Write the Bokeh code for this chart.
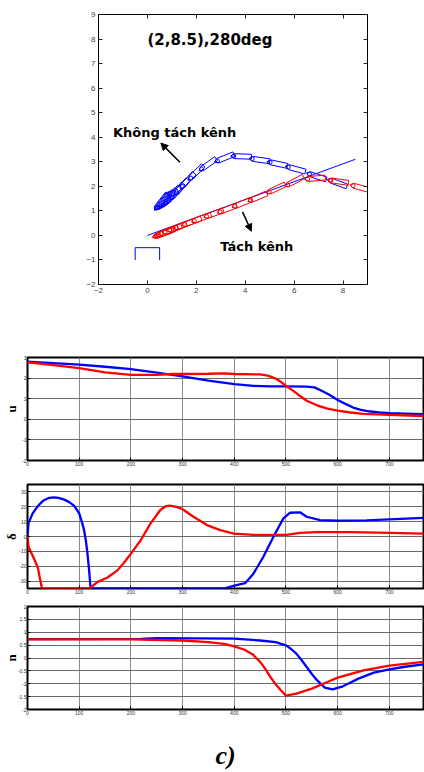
import numpy as np
from bokeh.plotting import figure
from bokeh.layouts import column, row
from bokeh.models import Range1d, LinearAxis, FixedTicker, Arrow, NormalHead, CustomJSTickFormatter
from bokeh.core.properties import value
from bokeh.embed import file_html
from bokeh.resources import INLINE

# ---------------- trajectory plot data ----------------
ref_x = [0.0, 8.5]
ref_y = [0.0, 3.1]
dock_x = [-0.5, -0.5, 0.5, 0.5]
dock_y = [-1.0, -0.5, -0.5, -1.0]

blue_ship_x = [7.76, 6.91, 6.05, 5.31, 4.58, 3.83, 3.14, 2.46, 1.98, 1.63, 1.38, 1.2, 1.05, 0.93, 0.83, 0.74, 0.66, 0.6, 0.55]
blue_ship_y = [2.14, 2.41, 2.71, 2.92, 3.08, 3.22, 3.15, 2.88, 2.55, 2.22, 1.96, 1.78, 1.65, 1.55, 1.48, 1.43, 1.39, 1.37, 1.36]
blue_ship_psi = [160, 162, 165, 168, 172, 178, 202, 215, 225, 228, 230, 231, 232, 232, 232, 232, 232, 232, 232]

red_ship_x = [8.7, 7.8, 6.85, 6.0, 5.25, 4.5, 3.85, 3.25, 2.7, 2.2, 1.8, 1.45, 1.2, 1.0, 0.85, 0.74, 0.66, 0.6]
red_ship_y = [1.95, 2.2, 2.32, 2.2, 1.9, 1.55, 1.3, 1.07, 0.88, 0.7, 0.55, 0.42, 0.32, 0.24, 0.18, 0.13, 0.09, 0.06]
red_ship_psi = [165, 172, 185, 208, 205, 203, 202, 201, 200, 200, 200, 200, 200, 200, 200, 200, 200, 200]

title_text = "(2,8.5),280deg"
label_blue = "Không tách kênh"
label_red = "Tách kênh"
caption = "c)"

# ---------------- time series data ----------------
u_blue_t = [0, 50, 100, 150, 200, 250, 300, 350, 400, 437, 470, 500, 540, 555, 566, 583, 600, 615, 630, 645, 660, 680, 700, 730, 766]
u_blue = [2.8, 2.73, 2.65, 2.55, 2.44, 2.27, 2.08, 1.88, 1.71, 1.62, 1.6, 1.6, 1.59, 1.55, 1.42, 1.2, 0.94, 0.75, 0.57, 0.46, 0.39, 0.33, 0.3, 0.28, 0.25]
u_red_t = [0, 50, 100, 150, 200, 250, 280, 300, 350, 380, 400, 450, 465, 480, 490, 500, 510, 520, 530, 540, 560, 580, 600, 625, 650, 700, 766]
u_red = [2.77, 2.63, 2.48, 2.28, 2.16, 2.16, 2.2, 2.2, 2.21, 2.23, 2.2, 2.18, 2.12, 1.98, 1.82, 1.63, 1.45, 1.27, 1.08, 0.9, 0.68, 0.52, 0.42, 0.33, 0.26, 0.21, 0.16]

d_blue_t = [0, 2, 10, 20, 30, 40, 50, 60, 70, 80, 90, 100, 105, 109, 113, 116, 119, 122, 380, 400, 421, 437, 456, 476, 495, 508, 527, 540, 566, 600, 656, 700, 766]
d_blue = [0, 9, 15.6, 20.5, 24, 25.8, 26.4, 26, 25, 23.3, 20.8, 15.6, 10, 5, -3, -11.5, -22, -35, -35, -33, -31.4, -25, -13.8, 0, 12.2, 16, 16.3, 13.3, 11, 10.6, 10.8, 11.5, 12.6]
d_red_t = [0, 2, 8, 14, 20, 24, 28, 120, 135, 154, 174, 187, 200, 219, 238, 257, 268, 276, 290, 300, 321, 347, 373, 399, 437, 501, 527, 560, 624, 700, 766]
d_red = [0, -7, -11.5, -16, -21, -28, -35, -35, -30.7, -27.8, -22.8, -17.5, -11.5, -2.5, 8.8, 17.8, 20.5, 20.8, 19.8, 18.3, 13.3, 7.7, 4.3, 2, 1.1, 1.1, 2.5, 3, 3, 2.5, 2]

n_blue_t = [0, 220, 250, 400, 450, 480, 500, 510, 520, 530, 540, 550, 560, 575, 590, 610, 625, 640, 670, 700, 730, 766]
n_blue = [0.735, 0.74, 0.77, 0.75, 0.68, 0.62, 0.49, 0.35, 0.17, -0.08, -0.35, -0.62, -0.86, -1.15, -1.22, -1.1, -0.95, -0.8, -0.57, -0.44, -0.34, -0.25]
n_red_t = [0, 200, 300, 350, 380, 400, 420, 435, 450, 460, 470, 480, 490, 500, 520, 550, 580, 600, 650, 700, 766]
n_red = [0.72, 0.72, 0.68, 0.62, 0.55, 0.45, 0.32, 0.15, -0.15, -0.42, -0.74, -1.02, -1.25, -1.46, -1.38, -1.19, -0.93, -0.76, -0.48, -0.3, -0.15]

x_ticks = [0, 100, 200, 300, 400, 500, 600, 700]
u_ticks = [-2, -1, 0, 1, 2, 3]
d_ticks = [-30, -20, -10, 0, 10, 20, 30]
n_ticks = [-2, -1.5, -1, -0.5, 0, 0.5, 1, 1.5, 2]

BLUE = "#0000ff"
RED = "#ff0000"


def hulls(xc, yc, psi):
    L, B, t = 0.85, 0.2, 0.15
    hx = np.array([L / 2, L / 2 - t, -L / 2, -L / 2, L / 2 - t])
    hy = np.array([0, B / 2, B / 2, -B / 2, -B / 2])
    xs, ys, bx, by = [], [], [], []
    for x, y, a in zip(xc, yc, psi):
        r = np.deg2rad(a)
        xs.append(list(x + hx * np.cos(r) - hy * np.sin(r)))
        ys.append(list(y + hx * np.sin(r) + hy * np.cos(r)))
        bx.append(x + 0.3 * np.cos(r))
        by.append(y + 0.3 * np.sin(r))
    return xs, ys, bx, by


# ---------------- top figure ----------------
pA = figure(width=424, height=350, x_range=Range1d(-2, 9), y_range=Range1d(-2, 9),
            output_backend="svg", toolbar_location=None,
            min_border_left=98, min_border_right=57, min_border_top=14, min_border_bottom=66)
pA.xgrid.visible = False
pA.ygrid.visible = False
pA.outline_line_color = "black"
pA.xaxis.ticker = FixedTicker(ticks=[-2, 0, 2, 4, 6, 8])
pA.yaxis.ticker = FixedTicker(ticks=list(range(-2, 10)))
pA.add_layout(LinearAxis(ticker=FixedTicker(ticks=list(range(-2, 10))),
                         formatter=CustomJSTickFormatter(code="return ''")), "right")
pA.add_layout(LinearAxis(ticker=FixedTicker(ticks=[-2, 0, 2, 4, 6, 8]),
                         formatter=CustomJSTickFormatter(code="return ''")), "above")
for ax in pA.axis:
    ax.major_tick_in = 4
    ax.major_tick_out = 0
    ax.minor_tick_line_color = None
    ax.axis_line_color = "black"
    ax.major_tick_line_color = "#222222"
    ax.major_label_text_font = "Liberation Sans"
    ax.major_label_text_font_size = "8px"
    ax.major_label_text_color = "#444444"
    ax.major_label_standoff = 3

pA.line(ref_x, ref_y, line_color=BLUE, line_width=1)
pA.line(dock_x, dock_y, line_color=BLUE, line_width=1)

bxs, bys, bbx, bby = hulls(blue_ship_x, blue_ship_y, blue_ship_psi)
rxs, rys, rbx, rby = hulls(red_ship_x, red_ship_y, red_ship_psi)
pA.patches(bxs, bys, fill_color=None, line_color=BLUE, line_width=1)
pA.scatter(bbx, bby, marker="circle", size=4, fill_color=None, line_color=BLUE, line_width=1)
pA.patches(rxs, rys, fill_color=None, line_color=RED, line_width=1)
pA.scatter(rbx, rby, marker="circle", size=4, fill_color=None, line_color=RED, line_width=1)

pA.add_layout(Arrow(end=NormalHead(size=7, fill_color="black", line_color="black"),
                    x_start=1.33, y_start=2.98, x_end=0.55, y_end=3.76,
                    line_color="black", line_width=1.5))
pA.add_layout(Arrow(end=NormalHead(size=7, fill_color="black", line_color="black"),
                    x_start=3.89, y_start=0.96, x_end=4.25, y_end=0.17,
                    line_color="black", line_width=1.5))

pA.text(x=[0.0], y=[7.95], text=[title_text], text_font=value("DejaVu Sans"),
        text_font_style="bold", text_font_size="15px", text_baseline="middle", text_color="black")
pA.text(x=[-1.41], y=[4.21], text=[label_blue], text_font=value("DejaVu Sans"),
        text_font_style="bold", text_font_size="13px", text_baseline="middle", text_color="black")
pA.text(x=[2.98], y=[-0.45], text=[label_red], text_font=value("DejaVu Sans"),
        text_font_style="bold", text_font_size="13px", text_baseline="middle", text_color="black")


# ---------------- strip figures ----------------
def strip(h, bt, bb, yr, yticks, ylab, lab_standoff):
    p = figure(width=424, height=h, x_range=Range1d(0, 766), y_range=Range1d(*yr),
               output_backend="svg", toolbar_location=None,
               min_border_left=27, min_border_right=1, min_border_top=bt, min_border_bottom=bb)
    p.outline_line_color = "black"
    p.outline_line_width = 2
    p.xaxis.ticker = FixedTicker(ticks=x_ticks)
    p.yaxis.ticker = FixedTicker(ticks=yticks)
    p.yaxis.formatter = CustomJSTickFormatter(code="return String(tick)")
    for ax in p.axis:
        ax.major_label_text_font = "Liberation Sans"
        ax.major_label_text_font_size = "5px"
        ax.major_label_text_color = "#333333"
        ax.major_tick_in = 3
        ax.major_tick_out = 0
        ax.major_tick_line_color = "black"
        ax.minor_tick_line_color = None
        ax.axis_line_color = None
        ax.major_label_standoff = 1
    p.yaxis.axis_label = ylab
    p.yaxis.axis_label_text_font = "Liberation Serif"
    p.yaxis.axis_label_text_font_size = "13px"
    p.yaxis.axis_label_text_font_style = "bold"
    p.yaxis.axis_label_text_color = "black"
    p.yaxis.axis_label_standoff = lab_standoff
    p.xgrid.grid_line_color = "#8a8a8a"
    p.ygrid.grid_line_color = "#6a6a6a"
    p.xgrid.grid_line_width = 1
    p.ygrid.grid_line_width = 1
    return p


pu = strip(120, 7, 10, (-2, 3), u_ticks, "u", 0)
pu.line(u_blue_t, u_blue, line_color=BLUE, line_width=2.3)
pu.line(u_red_t, u_red, line_color=RED, line_width=2.3)

pd_ = strip(129, 14, 11, (-35, 35), d_ticks, "δ", -3)
pd_.line(d_blue_t, d_blue, line_color=BLUE, line_width=2.3)
pd_.line(d_red_t, d_red, line_color=RED, line_width=2.3)

pn = strip(173, 7, 63, (-2, 2), n_ticks, "n", -4)
pn.line(n_blue_t, n_blue, line_color=BLUE, line_width=2.3)
pn.line(n_red_t, n_red, line_color=RED, line_width=2.3)
pn.xaxis.axis_label = caption
pn.xaxis.axis_label_text_font = "Liberation Serif"
pn.xaxis.axis_label_text_font_size = "26px"
pn.xaxis.axis_label_text_font_style = "bold italic"
pn.xaxis.axis_label_text_color = "black"
pn.xaxis.axis_label_standoff = 23

layout = column(row(pA), row(pu), row(pd_), row(pn), spacing=0)
open("out.html", "w").write(file_html(layout, INLINE))
